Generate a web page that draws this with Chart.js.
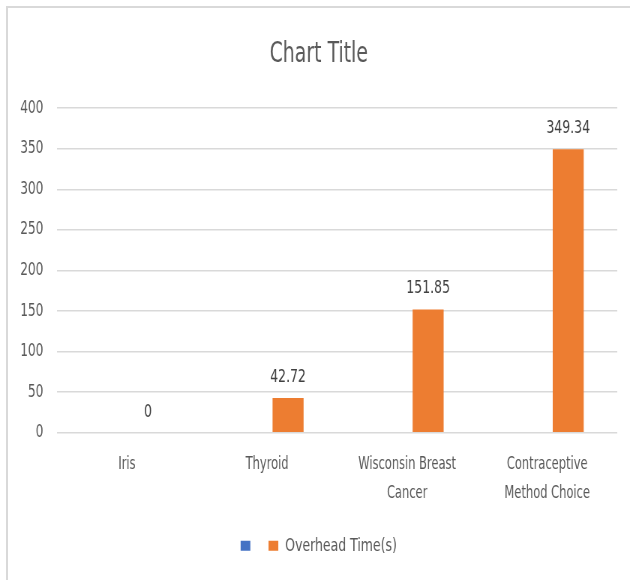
<!DOCTYPE html>
<html>
<head>
<meta charset="utf-8">
<script src="https://cdn.jsdelivr.net/npm/chart.js@4/dist/chart.umd.min.js"></script>
<style>
  html, body { margin: 0; padding: 0; background: #ffffff; overflow: hidden; }
  body { width: 630px; height: 580px; position: relative; }
  #frame { position: absolute; left: 6px; top: 6px; width: 700px; height: 700px;
           border-left: 2px solid #d9d9d9; border-top: 2px solid #d9d9d9; }
  #wrap { position: absolute; left: 0; top: 0; width: 840px; height: 580px;
          transform: scaleX(0.75); transform-origin: 0 0; }
</style>
</head>
<body>
<div id="frame"></div>
<div id="wrap"><canvas id="c" width="840" height="580"></canvas></div>
<script>
const categories = ['Iris', 'Thyroid', ['Wisconsin Breast', 'Cancer'], ['Contraceptive', 'Method Choice']];
const seriesBlue = [null, null, null, null];
const overheadTime = [0, 42.72, 151.85, 349.34];
const overheadLabels = ['0', '42.72', '151.85', '349.34'];
const yTicks = [0, 50, 100, 150, 200, 250, 300, 350, 400];

const FONT = "'DejaVu Sans Condensed', 'DejaVu Sans', sans-serif";
const TXT = '#595959';

const valueLabels = {
  id: 'valueLabels',
  afterDatasetsDraw(chart) {
    const ctx = chart.ctx;
    const meta = chart.getDatasetMeta(1);
    ctx.save();
    ctx.font = '18.5px ' + FONT;
    ctx.fillStyle = '#404040';
    ctx.textAlign = 'center';
    ctx.textBaseline = 'alphabetic';
    meta.data.forEach((bar, i) => {
      ctx.fillText(overheadLabels[i], bar.x, bar.y - 16);
    });
    ctx.restore();
  }
};

new Chart(document.getElementById('c'), {
  type: 'bar',
  data: {
    labels: categories,
    datasets: [
      { label: '', data: seriesBlue, backgroundColor: '#4472C4',
        categoryPercentage: 0.6, barPercentage: 0.738 },
      { label: 'Overhead Time(s)', data: overheadTime, backgroundColor: '#ED7D31',
        categoryPercentage: 0.6, barPercentage: 0.738 }
    ]
  },
  options: {
    responsive: false,
    animation: false,
    devicePixelRatio: 1,
    layout: { padding: { left: 27, right: 17, top: 0, bottom: 15 } },
    plugins: {
      title: {
        display: true, text: 'Chart Title', color: TXT,
        font: { family: FONT, size: 28, weight: 'normal' },
        padding: { top: 38, bottom: 36.5 }
      },
      legend: {
        position: 'bottom',
        labels: {
          color: TXT, boxWidth: 13, boxHeight: 10, padding: 15,
          font: { family: FONT, size: 18.5 }
        }
      },
      tooltip: { enabled: false }
    },
    scales: {
      x: {
        grid: { display: false },
        border: { display: false },
        afterFit(scale) { scale.height += 4; },
        ticks: { color: TXT, padding: 9.5, maxRotation: 0, autoSkip: false,
                 font: { family: FONT, size: 17, lineHeight: 1.7 } }
      },
      y: {
        min: 0, max: 400,
        afterBuildTicks(scale) { scale.ticks = yTicks.map(v => ({ value: v })); },
        afterFit(scale) { scale.width -= 18; },
        grid: { color: '#d9d9d9', lineWidth: 1.5, drawTicks: false },
        border: { display: false },
        ticks: { color: TXT, padding: 18, font: { family: FONT, size: 18 } }
      }
    }
  },
  plugins: [valueLabels]
});
</script>
</body>
</html>
